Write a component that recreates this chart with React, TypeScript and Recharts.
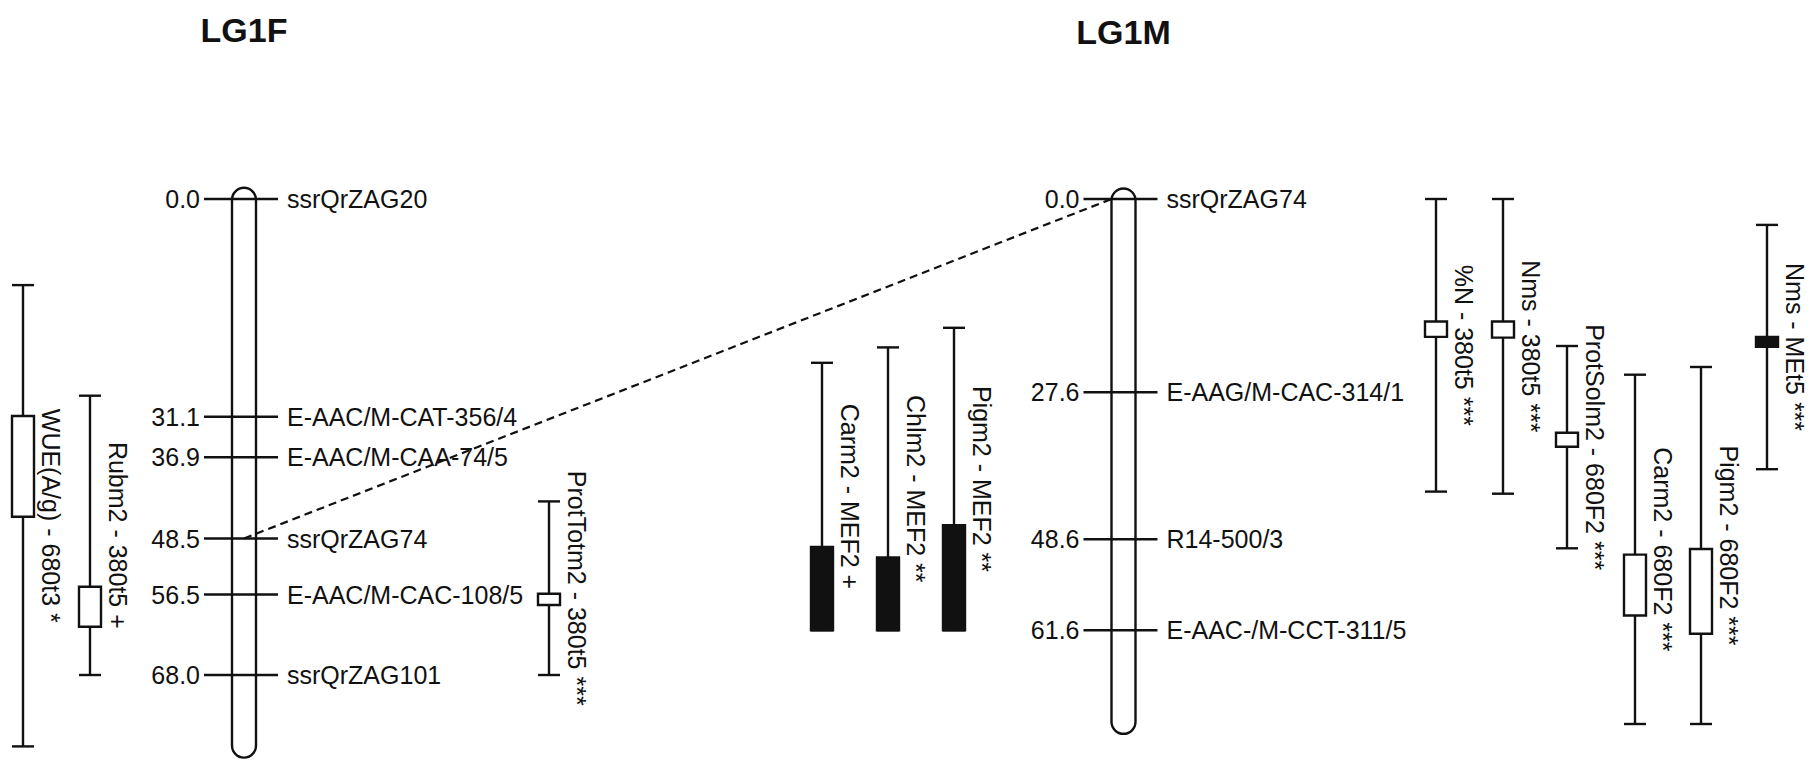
import React from 'react';
import { ComposedChart, XAxis, YAxis, Scatter, ReferenceLine, ReferenceArea } from 'recharts';

// ---------------- DATA ----------------
const lg1fMarkerNames = ['ssrQrZAG20', 'E-AAC/M-CAT-356/4', 'E-AAC/M-CAA-74/5', 'ssrQrZAG74', 'E-AAC/M-CAC-108/5', 'ssrQrZAG101'];
const lg1fMarkerPos = [0.0, 31.1, 36.9, 48.5, 56.5, 68.0];
const lg1fExtent = [-1.6, 79.8];

const lg1mMarkerNames = ['ssrQrZAG74', 'E-AAG/M-CAC-314/1', 'R14-500/3', 'E-AAC-/M-CCT-311/5'];
const lg1mMarkerPos = [0.0, 27.6, 48.6, 61.6];
const lg1mExtent = [-1.5, 76.4];

// shared marker ssrQrZAG74 : LG1F 48.5 <-> LG1M 0.0
const linkFromPos = 48.5;
const linkToPos = 0.0;

const lg1fQtlNames = ['WUE(A/g) - 680t3 *', 'Rubm2 - 380t5 +', 'ProtTotm2 - 380t5 ***'];
const lg1fQtlLo = [12.3, 28.1, 43.2];
const lg1fQtlHi = [78.2, 68.0, 68.0];
const lg1fQtlPeakLo = [31.0, 55.4, 56.4];
const lg1fQtlPeakHi = [45.4, 61.1, 58.0];
const lg1fQtlFilled = [false, false, false];

const lg1mQtlNames = [
  'Carm2 - MEF2 +', 'Chlm2 - MEF2 **', 'Pigm2 - MEF2 **',
  '%N - 380t5 ***', 'Nms - 380t5 ***', 'ProtSolm2 - 680F2 ***',
  'Carm2 - 680F2 ***', 'Pigm2 - 680F2 ***', 'Nms - MEt5 ***',
];
const lg1mQtlLo = [23.4, 21.2, 18.4, 0.0, 0.0, 21.0, 25.1, 24.0, 3.7];
const lg1mQtlHi = [61.6, 61.6, 61.6, 41.8, 42.1, 49.9, 75.0, 75.0, 38.6];
const lg1mQtlPeakLo = [49.7, 51.2, 46.6, 17.5, 17.5, 33.4, 50.8, 50.0, 19.7];
const lg1mQtlPeakHi = [61.6, 61.6, 61.6, 19.7, 19.8, 35.4, 59.5, 62.1, 21.1];
const lg1mQtlFilled = [true, true, true, false, false, false, false, false, true];

const groupTitles = ['LG1F', 'LG1M'];

// ---------------- LAYOUT ----------------
const W = 1811;
const H = 759;
const ZERO_Y = 199;
const PX_PER_CM = 7.0;
const Y_DOMAIN = [-ZERO_Y / PX_PER_CM, (H - ZERO_Y) / PX_PER_CM];
const X_LG1F = 244;
const X_LG1M = 1123.5;
const CHROM_HALF = 12;
const lg1fQtlX = [23, 90, 549];
const lg1mQtlX = [822, 888, 954, 1436, 1503, 1567, 1635, 1701, 1767];
const QTL_HALF = 11;
const INK = '#111111';
const SW = 2.4;
const FONT = '"Liberation Sans", Arial, Helvetica, sans-serif';
const titleTops = [13, 15];

type Qtl = { name: string; x: number; lo: number; hi: number; pLo: number; pHi: number; filled: boolean };

const qtls: Qtl[] = [
  ...lg1fQtlNames.map((n, i) => ({ name: n, x: lg1fQtlX[i], lo: lg1fQtlLo[i], hi: lg1fQtlHi[i], pLo: lg1fQtlPeakLo[i], pHi: lg1fQtlPeakHi[i], filled: lg1fQtlFilled[i] })),
  ...lg1mQtlNames.map((n, i) => ({ name: n, x: lg1mQtlX[i], lo: lg1mQtlLo[i], hi: lg1mQtlHi[i], pLo: lg1mQtlPeakLo[i], pHi: lg1mQtlPeakHi[i], filled: lg1mQtlFilled[i] })),
];

const chromosomes = [
  { x: X_LG1F, ext: lg1fExtent },
  { x: X_LG1M, ext: lg1mExtent },
];

const markerData = [
  ...lg1fMarkerNames.map((n, i) => ({ x: X_LG1F, y: lg1fMarkerPos[i], name: n, pos: lg1fMarkerPos[i] })),
  ...lg1mMarkerNames.map((n, i) => ({ x: X_LG1M, y: lg1mMarkerPos[i], name: n, pos: lg1mMarkerPos[i] })),
];

const qtlLabelData = qtls.map((q) => ({ x: q.x, y: (q.lo + q.hi) / 2, name: q.name }));

const renderMarker = (p: any) => {
  const { cx, cy, payload } = p;
  return (
    <g>
      <line x1={cx - 40} x2={cx + 34} y1={cy} y2={cy} stroke={INK} strokeWidth={SW} />
      <text x={cx - 44} y={cy} textAnchor="end" dominantBaseline="central" fontFamily={FONT} fontSize={25} fill={INK}>
        {payload.pos.toFixed(1)}
      </text>
      <text x={cx + 43} y={cy} textAnchor="start" dominantBaseline="central" fontFamily={FONT} fontSize={25} fill={INK}>
        {payload.name}
      </text>
    </g>
  );
};

const renderQtlLabel = (p: any) => {
  const { cx, cy, payload } = p;
  const lx = cx + 28;
  return (
    <text
      x={lx}
      y={cy}
      transform={`rotate(90, ${lx}, ${cy})`}
      textAnchor="middle"
      dominantBaseline="central"
      fontFamily={FONT}
      fontSize={25}
      fill={INK}
    >
      {payload.name}
    </text>
  );
};

const chromShape = (p: any) => (
  <rect x={p.x} y={p.y} width={p.width} height={p.height} rx={CHROM_HALF} ry={CHROM_HALF} fill="none" stroke={INK} strokeWidth={SW} />
);

export default function App() {
  return (
    <div style={{ position: 'absolute', left: 0, top: 0, width: W, height: H, background: '#fff', overflow: 'hidden' }}>
      <ComposedChart width={W} height={H} margin={{ top: 0, right: 0, bottom: 0, left: 0 }}>
        <XAxis type="number" dataKey="x" domain={[0, W]} hide allowDataOverflow />
        <YAxis type="number" dataKey="y" domain={Y_DOMAIN} reversed hide allowDataOverflow />

        {chromosomes.map((c, i) => (
          <ReferenceArea
            key={`chr${i}`}
            x1={c.x - CHROM_HALF}
            x2={c.x + CHROM_HALF}
            y1={c.ext[0]}
            y2={c.ext[1]}
            shape={chromShape}
            ifOverflow="visible"
          />
        ))}

        <ReferenceLine
          segment={[{ x: X_LG1F, y: linkFromPos }, { x: X_LG1M - CHROM_HALF, y: linkToPos }]}
          stroke={INK}
          strokeWidth={2.2}
          strokeDasharray="8 5"
          ifOverflow="visible"
        />

        {qtls.map((q, i) => [
          <ReferenceLine key={`qa${i}`} segment={[{ x: q.x, y: q.lo }, { x: q.x, y: q.pLo }]} stroke={INK} strokeWidth={SW} ifOverflow="visible" />,
          q.hi > q.pHi ? (
            <ReferenceLine key={`qb${i}`} segment={[{ x: q.x, y: q.pHi }, { x: q.x, y: q.hi }]} stroke={INK} strokeWidth={SW} ifOverflow="visible" />
          ) : null,
          <ReferenceLine key={`qc${i}`} segment={[{ x: q.x - QTL_HALF, y: q.lo }, { x: q.x + QTL_HALF, y: q.lo }]} stroke={INK} strokeWidth={SW} ifOverflow="visible" />,
          <ReferenceLine key={`qd${i}`} segment={[{ x: q.x - QTL_HALF, y: q.hi }, { x: q.x + QTL_HALF, y: q.hi }]} stroke={INK} strokeWidth={SW} ifOverflow="visible" />,
          <ReferenceArea
            key={`qe${i}`}
            x1={q.x - QTL_HALF}
            x2={q.x + QTL_HALF}
            y1={q.pLo}
            y2={q.pHi}
            fill={q.filled ? INK : '#ffffff'}
            fillOpacity={1}
            stroke={INK}
            strokeWidth={SW}
            ifOverflow="visible"
          />,
        ])}

        <Scatter data={markerData} shape={renderMarker} isAnimationActive={false} />
        <Scatter data={qtlLabelData} shape={renderQtlLabel} isAnimationActive={false} />
      </ComposedChart>
      {[X_LG1F, X_LG1M].map((cx, i) => (
        <div
          key={groupTitles[i]}
          style={{
            position: 'absolute',
            left: cx - 100,
            top: titleTops[i],
            width: 200,
            textAlign: 'center',
            fontFamily: FONT,
            fontWeight: 'bold',
            fontSize: 34,
            lineHeight: '34px',
            color: INK,
          }}
        >
          {groupTitles[i]}
        </div>
      ))}
    </div>
  );
}
